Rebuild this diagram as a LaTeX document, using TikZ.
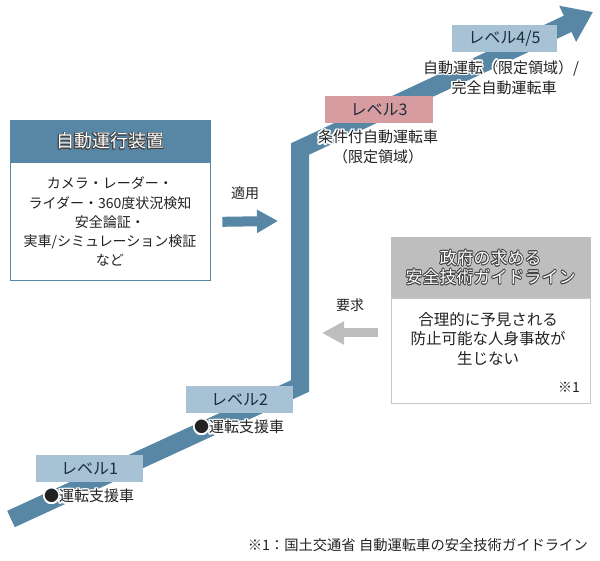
\documentclass[tikz,border=0pt]{standalone}
\usepackage{fontspec}
\setmainfont{Noto Sans CJK JP}
\usetikzlibrary{arrows.meta,positioning}
\definecolor{bandblue}{RGB}{88,134,165}
\definecolor{levelblue}{RGB}{166,194,212}
\definecolor{levelpink}{RGB}{214,156,160}
\definecolor{guidegray}{RGB}{190,190,190}
\definecolor{inkdark}{RGB}{34,34,34}
\definecolor{navyink}{RGB}{30,44,60}

% text with a halo: [style]{halo colour}{halo radius}{name}{position}{text}
\newcommand\halonode[6][]{%
  \foreach \ang in {0,30,...,330}
    \node[#1, text=#2] at ([shift={(\ang:#3)}]#5) {#6};
  \node[#1] (#4) at (#5) {#6};}

\begin{document}
\begin{tikzpicture}[x=1pt, y=-1pt,
    band/.style={draw=bandblue, line width=18pt, line join=miter, -{Triangle[length=28pt,width=38pt]}},
    levelbox/.style={fill=levelblue, minimum width=107pt, minimum height=27pt, inner sep=0pt, text=navyink, font=\fontsize{16}{18}\selectfont},
    subtext/.style={text=inkdark, inner sep=0pt, font=\fontsize{15}{18}\selectfont},
    headtext/.style={text=white, inner sep=0pt, align=center, font=\fontsize{18}{19}\selectfont},
    bodytext/.style={text=inkdark, inner sep=0pt, align=center},
    arrowtext/.style={text=inkdark, inner sep=0pt, font=\fontsize{14}{16}\selectfont}]
\useasboundingbox (0,0) rectangle (600,561);

% Stepped arrow
\coordinate (start) at (11,519);
\coordinate (lowbend) at (300,386);
\coordinate (highbend) at (300,149);
\coordinate (tip) at (593,12);
\draw[band] (start) -- (lowbend) -- (highbend) -- (tip);

% Levels
\node[levelbox] (lvlone) at (89.5,468.5) {レベル1};
\halonode[subtext]{white}{1.6pt}{lvlonesub}{89,496}{●運転支援車}
\node[levelbox] (lvltwo) at (239.5,399.5) {レベル2};
\halonode[subtext]{white}{1.6pt}{lvltwosub}{239,427}{●運転支援車}
\node[levelbox, fill=levelpink, minimum width=108pt] (lvlthree) at (379,110) {レベル3};
\halonode[subtext]{white}{1.6pt}{lvlthreesub}{378,137}{条件付自動運転車}
\halonode[subtext]{white}{1.6pt}{lvlthreearea}{378,157}{（限定領域）}
\node[levelbox, minimum width=105pt] (lvlfour) at (504.5,38.5) {レベル4/5};
\halonode[subtext]{white}{1.6pt}{lvlfoursub}{501,68}{自動運転（限定領域）/}
\halonode[subtext]{white}{1.6pt}{lvlfourfull}{504,88}{完全自動運転車}

% Automated driving system box
\node[fill=bandblue, draw=bandblue, line width=0.8pt, minimum width=200pt, minimum height=42pt, inner sep=0pt] (devhead) at (110,141) {};
\node[draw=bandblue, line width=0.8pt, minimum width=200pt, minimum height=118pt, anchor=north, bodytext,
      font=\fontsize{14}{19.2}\selectfont] (devbody) at (devhead.south)
  {カメラ・レーダー・\\ライダー・360度状況検知\\安全論証・\\実車/シミュレーション検証\\など};
\halonode[headtext]{black!75}{0.7pt}{devtitle}{devhead.center}{自動運行装置}

% Government guideline box
\node[fill=guidegray, draw=guidegray, line width=0.8pt, minimum width=199pt, minimum height=61pt, inner sep=0pt] (guidehead) at (490.5,267.5) {};
\node[draw=black!22, line width=0.8pt, minimum width=199pt, minimum height=105pt, anchor=north, inner sep=0pt] (guidebody) at (guidehead.south) {};
\halonode[headtext, font=\fontsize{17}{19}\selectfont]{black!75}{0.7pt}{guidetitle}{guidehead.center}{政府の求める\\安全技術ガイドライン}
\node[bodytext, font=\fontsize{15.5}{19.5}\selectfont] (guidetext) at (488,338.5) {合理的に予見される\\防止可能な人身事故が\\生じない};
\node[bodytext, anchor=east, font=\fontsize{14}{16}\selectfont] (guidenote) at (580,387) {※1};

% Apply / request arrows
\coordinate (applyto) at (278,221);
\draw[draw=bandblue, line width=10pt, -{Triangle[length=21pt,width=22pt]}] ([xshift=12pt]devbody.east) -- (applyto);
\node[arrowtext] (applylabel) at (245,193) {適用};
\coordinate (reqfrom) at (378,333);
\coordinate (reqto) at (322,333);
\draw[draw=guidegray, line width=9pt, -{Triangle[length=22pt,width=22pt]}] (reqfrom) -- (reqto);
\node[arrowtext] (reqlabel) at (350,305) {要求};

% Source
\node[arrowtext, anchor=east, font=\fontsize{14.3}{16}\selectfont] (source) at (588,545) {※1：国土交通省 自動運転車の安全技術ガイドライン};
\end{tikzpicture}
\end{document}
